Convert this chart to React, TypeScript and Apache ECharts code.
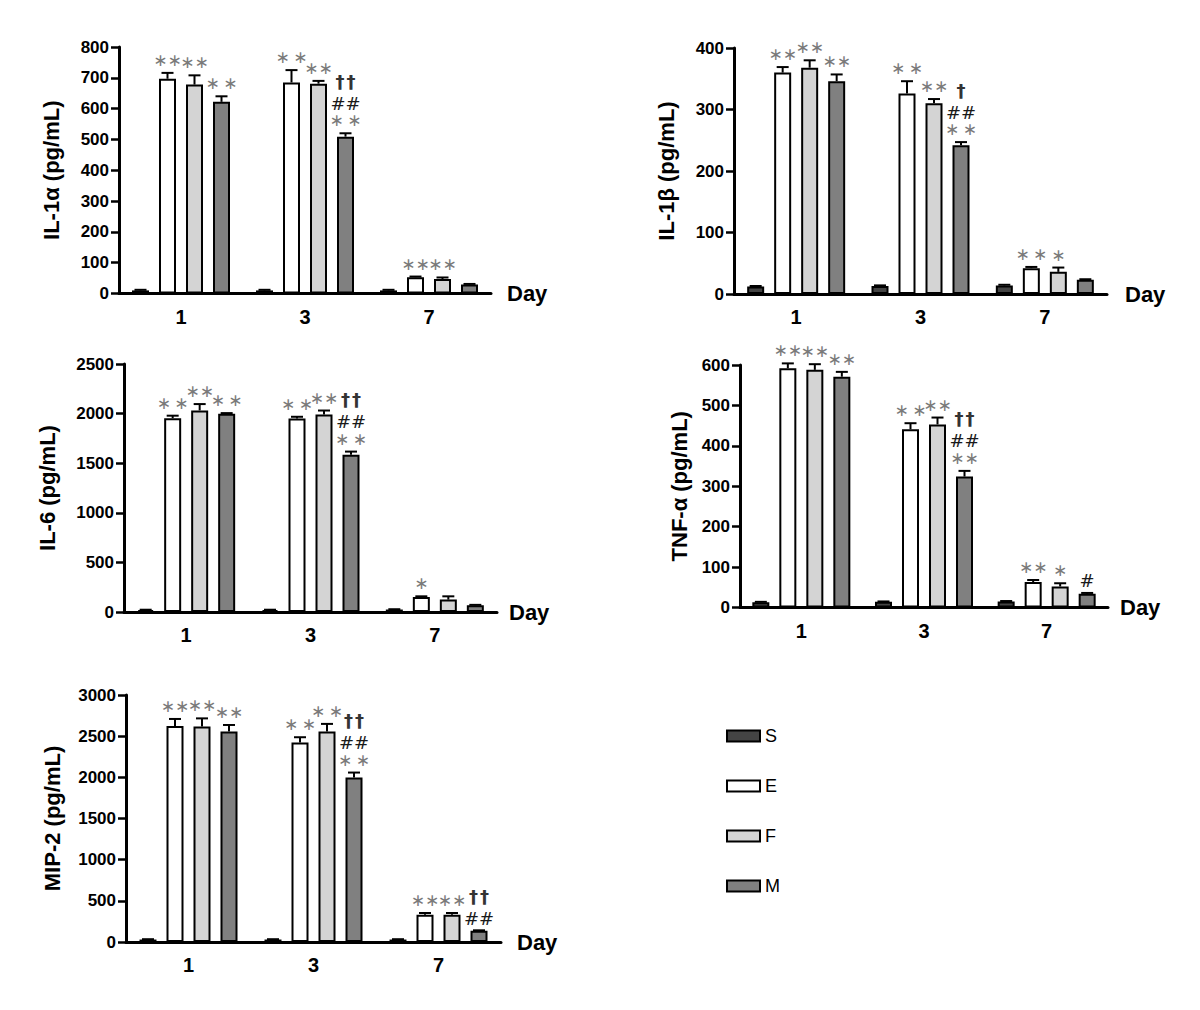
import React, { useEffect, useRef } from 'react';
import * as echarts from 'echarts';

const days = ['1', '3', '7'];
const groups = ['S', 'E', 'F', 'M'];

// IL-1α
const il1aS = [10, 10, 10];
const il1aE = [697, 685, 53];
const il1aF = [678, 681, 47];
const il1aM = [622, 509, 29];
const il1aErrS = [2, 2, 2];
const il1aErrE = [19, 40, 2];
const il1aErrF = [30, 9, 5];
const il1aErrM = [18, 11, 2];
const il1aMarks = [
  [[], ['∗∗'], ['∗∗'], ['∗ ∗']],
  [[], ['∗ ∗'], ['∗∗'], ['∗ ∗', '##', '††']],
  [[], ['∗∗'], ['∗∗'], []],
];

// IL-1β
const il1bS = [12, 13, 14];
const il1bE = [360, 326, 42];
const il1bF = [368, 310, 36];
const il1bM = [346, 242, 23];
const il1bErrS = [1, 1, 1];
const il1bErrE = [9, 20, 2];
const il1bErrF = [12, 7, 7];
const il1bErrM = [11, 5, 1];
const il1bMarks = [
  [[], ['∗∗'], ['∗∗'], ['∗∗']],
  [[], ['∗ ∗'], ['∗∗'], ['∗ ∗', '##', '†']],
  [[], ['∗ ∗'], ['∗'], []],
];

// IL-6
const il6S = [20, 20, 25];
const il6E = [1954, 1951, 152];
const il6F = [2032, 1991, 125];
const il6M = [1998, 1584, 67];
const il6ErrS = [3, 3, 3];
const il6ErrE = [25, 17, 6];
const il6ErrF = [64, 40, 33];
const il6ErrM = [7, 33, 5];
const il6Marks = [
  [[], ['∗ ∗'], ['∗∗'], ['∗ ∗']],
  [[], ['∗ ∗'], ['∗∗'], ['∗ ∗', '##', '††']],
  [[], ['∗'], [], []],
];

// TNF-α
const tnfS = [13, 14, 15];
const tnfE = [592, 441, 63];
const tnfF = [588, 453, 52];
const tnfM = [571, 324, 34];
const tnfErrS = [1, 1, 1];
const tnfErrE = [12, 15, 5];
const tnfErrF = [14, 17, 8];
const tnfErrM = [12, 14, 2];
const tnfMarks = [
  [[], ['∗∗'], ['∗∗'], ['∗∗']],
  [[], ['∗ ∗'], ['∗∗'], ['∗∗', '##', '††']],
  [[], ['∗∗'], ['∗'], ['#']],
];

// MIP-2
const mipS = [30, 30, 30];
const mipE = [2624, 2422, 332];
const mipF = [2616, 2556, 332];
const mipM = [2556, 1998, 137];
const mipErrS = [4, 4, 4];
const mipErrE = [85, 65, 20];
const mipErrF = [100, 93, 20];
const mipErrM = [80, 60, 5];
const mipMarks = [
  [[], ['∗∗'], ['∗∗'], ['∗∗']],
  [[], ['∗ ∗'], ['∗ ∗'], ['∗ ∗', '##', '††']],
  [[], ['∗∗'], ['∗∗'], ['##', '††']],
];

const FONT = '"Liberation Sans", Arial, Helvetica, sans-serif';
const SYM_FONT = '"DejaVu Sans", sans-serif';
const FILLS = ['#444444', '#ffffff', '#d4d4d4', '#808080'];
const BAR_W = 17;
const BAR_GAP = 10;
const PITCH = BAR_W + BAR_GAP;
const OFFSETS = [-1.5 * PITCH, -0.5 * PITCH, 0.5 * PITCH, 1.5 * PITCH];

const panels = [
  {
    name: 'IL-1α (pg/mL)', max: 800, interval: 100,
    values: [il1aS, il1aE, il1aF, il1aM], errs: [il1aErrS, il1aErrE, il1aErrF, il1aErrM], marks: il1aMarks,
    grid: { left: 119, top: 47, width: 372, height: 246.5 }, nameGap: 57, dayGap: 16,
  },
  {
    name: 'IL-1β (pg/mL)', max: 400, interval: 100,
    values: [il1bS, il1bE, il1bF, il1bM], errs: [il1bErrS, il1bErrE, il1bErrF, il1bErrM], marks: il1bMarks,
    grid: { left: 734, top: 48, width: 373, height: 246 }, nameGap: 57, dayGap: 18,
  },
  {
    name: 'IL-6 (pg/mL)', max: 2500, interval: 500,
    values: [il6S, il6E, il6F, il6M], errs: [il6ErrS, il6ErrE, il6ErrF, il6ErrM], marks: il6Marks,
    grid: { left: 124, top: 364, width: 373, height: 248 }, nameGap: 66, dayGap: 12,
  },
  {
    name: 'TNF-α (pg/mL)', max: 600, interval: 100,
    values: [tnfS, tnfE, tnfF, tnfM], errs: [tnfErrS, tnfErrE, tnfErrF, tnfErrM], marks: tnfMarks,
    grid: { left: 740, top: 365, width: 368, height: 242.5 }, nameGap: 50, dayGap: 12,
  },
  {
    name: 'MIP-2 (pg/mL)', max: 3000, interval: 500,
    values: [mipS, mipE, mipF, mipM], errs: [mipErrS, mipErrE, mipErrF, mipErrM], marks: mipMarks,
    grid: { left: 126, top: 695, width: 375, height: 247 }, nameGap: 63, dayGap: 16,
  },
];

function markStyle(t: string) {
  if (t.startsWith('∗')) return { fill: '#7a7a7a', fontSize: 17, fontWeight: 'normal', text: t.replace(' ', '\u2009') };
  if (t.startsWith('#')) return { fill: '#1a1a1a', fontSize: 18, fontWeight: 'normal', text: t };
  return { fill: '#333333', fontSize: 18, fontWeight: 'bold', text: t.split('').join('\u200A') };
}

function buildOption() {
  const grids: any[] = [];
  const xAxes: any[] = [];
  const yAxes: any[] = [];
  const series: any[] = [];

  panels.forEach((p, pi) => {
    grids.push({ ...p.grid, containLabel: false, outerBoundsMode: 'none' });
    xAxes.push({
      type: 'category', gridIndex: pi, data: days, boundaryGap: true,
      name: 'Day', nameLocation: 'end', nameGap: p.dayGap,
      nameTextStyle: { fontSize: 22, fontWeight: 'bold', color: '#000', fontFamily: FONT },
      axisLine: { show: true, lineStyle: { color: '#000', width: 3 } },
      axisTick: { show: false },
      axisLabel: { fontSize: 20, fontWeight: 'bold', color: '#000', fontFamily: FONT, margin: 13 },
      splitLine: { show: false },
    });
    yAxes.push({
      type: 'value', gridIndex: pi, min: 0, max: p.max, interval: p.interval,
      name: p.name, nameLocation: 'middle', nameRotate: 90, nameGap: p.nameGap, nameMoveOverlap: false,
      nameTextStyle: { fontSize: 22, fontWeight: 'bold', color: '#000', fontFamily: FONT },
      axisLine: { show: true, lineStyle: { color: '#000', width: 3 } },
      axisTick: { show: true, length: 8, lineStyle: { color: '#000', width: 2.5 } },
      axisLabel: {
        fontSize: 17, fontWeight: 'bold', color: '#000', fontFamily: FONT, margin: 10,
        formatter: (v: number) => String(v),
      },
      splitLine: { show: false },
    });
    groups.forEach((g, gi) => {
      series.push({
        type: 'bar', name: g, xAxisIndex: pi, yAxisIndex: pi,
        data: p.values[gi], barWidth: BAR_W, barGap: `${(BAR_GAP / BAR_W) * 100}%`,
        itemStyle: { color: FILLS[gi], borderColor: '#000', borderWidth: 2 },
        z: 2,
      });
    });
    const cdata: number[][] = [];
    for (let d = 0; d < days.length; d++) {
      for (let gi = 0; gi < groups.length; gi++) {
        cdata.push([d, gi, p.values[gi][d], p.errs[gi][d]]);
      }
    }
    series.push({
      type: 'custom', xAxisIndex: pi, yAxisIndex: pi, clip: false, z: 5, silent: true,
      encode: { x: 0, y: 2 },
      data: cdata,
      renderItem: (params: any, api: any) => {
        const d = api.value(0);
        const gi = api.value(1);
        const v = api.value(2);
        const e = api.value(3);
        const base = api.coord([d, v]);
        const top = api.coord([d, v + e]);
        const x = base[0] + OFFSETS[gi];
        const children: any[] = [
          { type: 'line', shape: { x1: x, y1: base[1], x2: x, y2: top[1] }, style: { stroke: '#000', lineWidth: 2 } },
          { type: 'line', shape: { x1: x - 6, y1: top[1], x2: x + 6, y2: top[1] }, style: { stroke: '#000', lineWidth: 2 } },
        ];
        const lines: string[] = p.marks[d][gi];
        let y = top[1] - (lines.length && lines[0].startsWith('#') ? 12 : 13);
        lines.forEach((t, li) => {
          if (li > 0) {
            const prev = lines[li - 1];
            y -= prev.startsWith('#') && t.startsWith('†') ? 22 : 17;
          }
          const st = markStyle(t);
          children.push({
            type: 'text', x, y,
            style: {
              text: st.text, fill: st.fill, fontSize: st.fontSize, fontWeight: st.fontWeight,
              fontFamily: SYM_FONT, align: 'center', verticalAlign: 'middle', lineHeight: 13,
            },
          });
        });
        return { type: 'group', children };
      },
    });
  });

  return {
    animation: false,
    backgroundColor: '#ffffff',
    grid: grids,
    xAxis: xAxes,
    yAxis: yAxes,
    legend: {
      data: groups, orient: 'vertical', left: 721, top: 722,
      itemWidth: 33, itemHeight: 11, itemGap: 32, icon: 'rect', selectedMode: false,
      textStyle: { fontSize: 18, color: '#000', fontFamily: FONT },
      itemStyle: { borderColor: '#000', borderWidth: 2 },
    },
    series,
  };
}

export default function App() {
  const ref = useRef<HTMLDivElement>(null);
  useEffect(() => {
    if (!ref.current) return;
    const chart = echarts.init(ref.current, undefined, { renderer: 'svg' });
    chart.setOption(buildOption() as any);
    return () => chart.dispose();
  }, []);
  return (
    <div
      ref={ref}
      style={{ position: 'absolute', left: 0, top: 0, width: 1200, height: 1010, background: '#fff' }}
    />
  );
}
